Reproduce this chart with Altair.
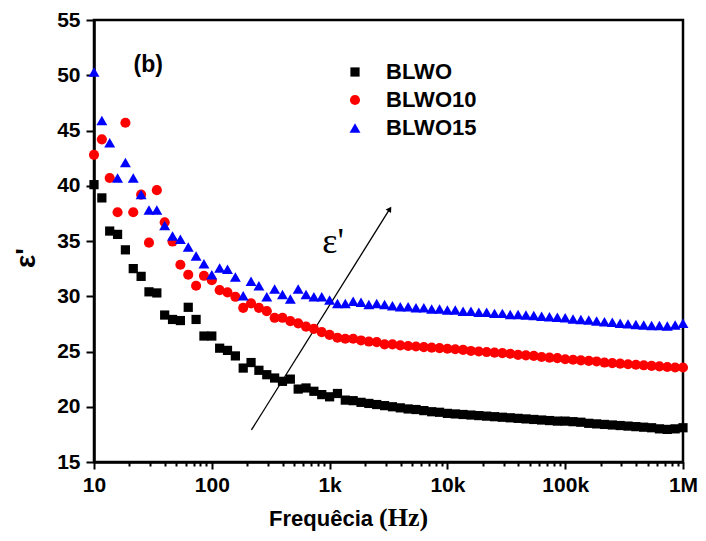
import altair as alt
import pandas as pd

FREQ = [10, 11.66, 13.59, 15.85, 18.48, 21.54, 25.12, 29.29, 34.15, 39.81, 46.42, 54.12, 63.10, 73.56, 85.77,
        100, 116.6, 135.9, 158.5, 184.8, 215.4, 251.2, 292.9, 341.5, 398.1, 464.2, 541.2, 631.0, 735.6, 857.7,
        1000, 1166, 1359, 1585, 1848, 2154, 2512, 2929, 3415, 3981, 4642, 5412, 6310, 7356, 8577,
        10000, 11660, 13590, 15850, 18480, 21540, 25120, 29290, 34150, 39810, 46420, 54120, 63100, 73560, 85770,
        100000, 116600, 135900, 158500, 184800, 215400, 251200, 292900, 341500, 398100, 464200, 541200, 631000,
        735600, 857700, 1000000]

BLWO = [40.1, 38.9, 35.9, 35.6, 34.2, 32.5, 31.8, 30.4, 30.3, 28.3, 27.9, 27.8, 29.0, 27.9, 26.4,
        26.4, 25.3, 25.1, 24.6, 23.5, 24.0, 23.3, 22.9, 22.6, 22.3, 22.5, 21.6, 21.7, 21.4, 21.1,
        20.9, 21.2, 20.6, 20.55, 20.4, 20.3, 20.2, 20.1, 20.0, 19.9, 19.8, 19.75, 19.65, 19.55, 19.5,
        19.4, 19.35, 19.3, 19.25, 19.2, 19.15, 19.1, 19.05, 19.0, 18.95, 18.9, 18.85, 18.8, 18.75, 18.7,
        18.7, 18.65, 18.6, 18.5, 18.45, 18.4, 18.35, 18.3, 18.25, 18.2, 18.15, 18.1, 18.0, 17.95, 18.0, 18.1]

BLWO10 = [42.8, 44.2, 40.7, 37.6, 45.7, 37.6, 39.2, 34.85, 39.6, 36.7, 34.95, 32.85, 31.95, 30.95, 31.85,
          31.45, 30.55, 30.35, 29.95, 28.95, 29.35, 28.95, 28.65, 28.05, 28.05, 27.75, 27.55, 27.25, 27.05, 26.75,
          26.5, 26.25, 26.15, 26.15, 26.0, 25.9, 25.85, 25.65, 25.65, 25.55, 25.5, 25.45, 25.4, 25.35, 25.3,
          25.25, 25.2, 25.15, 25.05, 25.0, 24.95, 24.9, 24.85, 24.8, 24.7, 24.65, 24.6, 24.5, 24.45, 24.4,
          24.3, 24.25, 24.2, 24.15, 24.1, 24.0, 23.95, 23.9, 23.85, 23.8, 23.75, 23.7, 23.65, 23.6, 23.55, 23.55]

BLWO15 = [50.3, 45.9, 43.9, 40.7, 42.1, 40.7, 39.2, 37.8, 37.8, 36.4, 35.45, 35.15, 34.45, 33.65, 32.95,
          31.95, 32.55, 32.45, 31.75, 30.05, 31.35, 30.95, 29.95, 30.65, 30.15, 29.75, 30.65, 30.15, 29.95, 29.95,
          29.65, 29.35, 29.35, 29.55, 29.45, 29.25, 29.35, 29.25, 29.15, 29.05, 29.05, 28.95, 28.95, 28.85, 28.85,
          28.75, 28.75, 28.65, 28.65, 28.55, 28.55, 28.45, 28.45, 28.35, 28.35, 28.3, 28.25, 28.2, 28.15, 28.1,
          28.05, 27.95, 27.9, 27.85, 27.75, 27.7, 27.65, 27.55, 27.5, 27.45, 27.4, 27.35, 27.35, 27.3, 27.4, 27.55]

SERIES = ["BLWO", "BLWO10", "BLWO15"]
COLORS = ["#000000", "#ff0000", "#0000ff"]
SHAPES = ["square", "circle", "triangle-up"]
SIZES = [85, 120, 175]

MAJOR = [10, 100, 1000, 10000, 100000, 1000000]
MAJOR_LABELS = ["10", "100", "1k", "10k", "100k", "1M"]
MINOR = [m * d for d in [10, 100, 1000, 10000, 100000] for m in range(2, 10)]
Y_TICKS = [15, 20, 25, 30, 35, 40, 45, 50, 55]

ARROW_F = [217, 3245]
ARROW_V = [17.9, 37.9]

FONT = "Liberation Sans"

rows = []
for name, vals in zip(SERIES, [BLWO, BLWO10, BLWO15]):
    for f, v in zip(FREQ, vals):
        rows.append({"f": f, "eps": v, "s": name})
df = pd.DataFrame(rows)

label_expr = " : ".join(f"datum.value == {v} ? '{l}'" for v, l in zip(MAJOR, MAJOR_LABELS)) + " : ''"
major_test = "indexof([" + ",".join(str(v) for v in MAJOR) + "], datum.value) >= 0"

xscale = alt.Scale(type="log", domain=[10, 1000000], nice=False)
yscale = alt.Scale(domain=[15, 55], nice=False)

legend = alt.Legend(title=None, orient="none", legendX=250, legendY=41,
                    labelFont=FONT, labelFontSize=22, labelFontWeight="bold", labelColor="black",
                    symbolSize=120, labelOffset=20, rowPadding=6, padding=0,
                    symbolStrokeWidth=0)

points = alt.Chart(df).mark_point(filled=True, opacity=1).encode(
    x=alt.X("f:Q", scale=xscale, axis=alt.Axis(
        title=None, values=sorted(MAJOR + MINOR), labelExpr=label_expr,
        tickSize={"condition": {"test": major_test, "value": 7}, "value": 4},
        labelOverlap=False, labelFlush=False, labelPadding=5)),
    y=alt.Y("eps:Q", scale=yscale, axis=alt.Axis(
        title=None, values=Y_TICKS, tickSize=8, labelPadding=6)),
    color=alt.Color("s:N", scale=alt.Scale(domain=SERIES, range=COLORS), legend=legend),
    shape=alt.Shape("s:N", scale=alt.Scale(domain=SERIES, range=SHAPES), legend=legend),
    size=alt.Size("s:N", scale=alt.Scale(domain=SERIES, range=SIZES), legend=None),
)

arrow_df = pd.DataFrame({"f": [ARROW_F[0]], "eps": [ARROW_V[0]], "f2": [ARROW_F[1]], "eps2": [ARROW_V[1]]})
arrow = alt.Chart(arrow_df).mark_rule(color="black", strokeWidth=1.3).encode(
    x=alt.X("f:Q", scale=xscale), y=alt.Y("eps:Q", scale=yscale), x2="f2:Q", y2="eps2:Q")

head_df = pd.DataFrame({"f": [ARROW_F[1]], "eps": [ARROW_V[1]]})
head = alt.Chart(head_df).mark_point(shape="triangle-up", filled=True, color="black",
                                     opacity=1, size=40, angle=32).encode(
    x=alt.X("f:Q", scale=xscale), y=alt.Y("eps:Q", scale=yscale))

ann_df = pd.DataFrame({"f": [28.9], "eps": [50.9], "t": ["(b)"]})
ann_b = alt.Chart(ann_df).mark_text(font=FONT, fontSize=23, fontWeight="bold", color="black").encode(
    x=alt.X("f:Q", scale=xscale), y=alt.Y("eps:Q", scale=yscale), text="t:N")

eps_df = pd.DataFrame({"f": [1070], "eps": [34.9], "t": ["ε'"]})
ann_eps = alt.Chart(eps_df).mark_text(font="Liberation Serif", fontSize=36, color="black").encode(
    x=alt.X("f:Q", scale=xscale), y=alt.Y("eps:Q", scale=yscale), text="t:N")

xt1 = alt.Chart(pd.DataFrame({"t": ["Frequêcia"]})).mark_text(
    font=FONT, fontSize=22, fontWeight="bold", align="right", baseline="middle", color="black").encode(
    x=alt.value(279), y=alt.value(499), text="t:N")
xt2 = alt.Chart(pd.DataFrame({"t": ["(Hz)"]})).mark_text(
    font="Liberation Serif", fontSize=26, fontWeight="bold", align="left", baseline="middle", color="black").encode(
    x=alt.value(285), y=alt.value(498), text="t:N")
yt = alt.Chart(pd.DataFrame({"t": ["ε'"]})).mark_text(
    font=FONT, fontSize=28, fontWeight="bold", angle=270, align="center", baseline="middle", color="black").encode(
    x=alt.value(-67), y=alt.value(238), text="t:N")

chart = alt.layer(arrow, head, points, ann_b, ann_eps, xt1, xt2, yt).properties(
    width=589, height=442,
    autosize=alt.AutoSizeParams(type="none"),
    padding={"left": 86, "top": 12, "right": 15, "bottom": 71},
).configure_view(stroke="black", strokeWidth=2.5).configure_axis(
    grid=False, domainColor="black", domainWidth=2.5, tickColor="black", tickWidth=2,
    labelFont=FONT, labelFontSize=21, labelFontWeight="bold", labelColor="black",
)

chart.save("out.html", embed_options={"renderer": "svg", "actions": False})
